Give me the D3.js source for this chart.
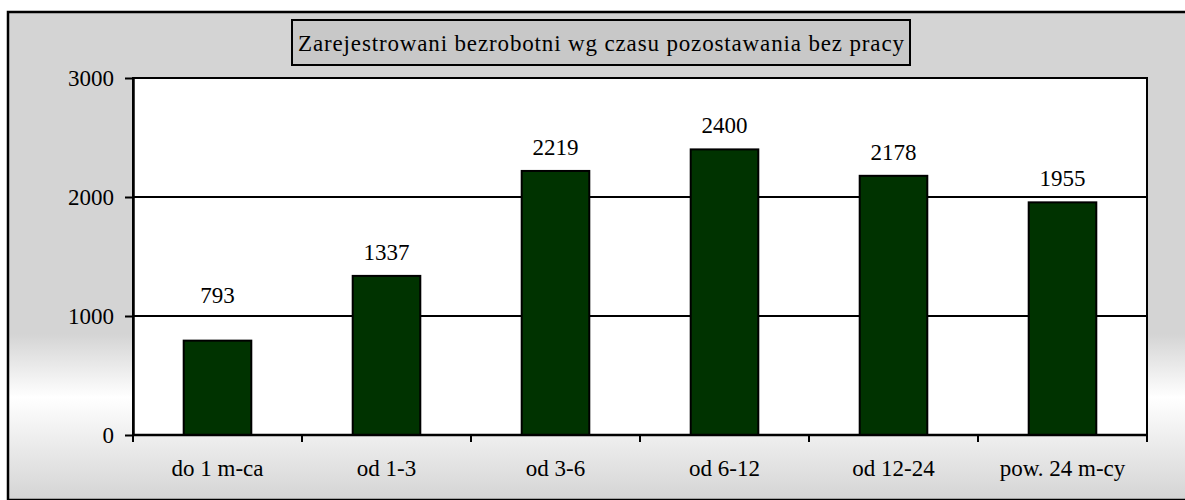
<!DOCTYPE html>
<html>
<head>
<meta charset="utf-8">
<script src="https://cdn.jsdelivr.net/npm/d3@7"></script>
<style>
  html, body { margin: 0; padding: 0; background: #fff; }
</style>
</head>
<body>
<svg id="chart" width="1185" height="500"></svg>
<script>
// chart data
var categories = ["do 1 m-ca", "od 1-3", "od 3-6", "od 6-12", "od 12-24", "pow. 24 m-cy"];
var values = [793, 1337, 2219, 2400, 2178, 1955];
var yTicks = [0, 1000, 2000, 3000];
var title = "Zarejestrowani bezrobotni wg czasu pozostawania bez pracy";

var svg = d3.select('#chart'),
    margin = { left: 133, right: 1147, top: 78, bottom: 435 };

var defs = svg.append('defs');
var grad = defs.append('linearGradient')
    .attr('id', 'bg')
    .attr('x1', 0).attr('y1', 0).attr('x2', 0).attr('y2', 1);
grad.append('stop').attr('offset', 0).attr('stop-color', '#d4d4d4');
grad.append('stop').attr('offset', 0.66).attr('stop-color', '#d4d4d4');
grad.append('stop').attr('offset', 0.79).attr('stop-color', '#ffffff');
grad.append('stop').attr('offset', 1).attr('stop-color', '#d4d4d4');

// outer frame
svg.append('rect')
    .attr('x', 8).attr('y', 12)
    .attr('width', 1200).attr('height', 488)
    .attr('fill', 'url(#bg)')
    .attr('stroke', '#000')
    .attr('stroke-width', 2.5);

function label(parent, x, y, str, anchor) {
  return parent.append('text')
      .attr('x', x).attr('y', y)
      .attr('dy', '0.35em')
      .attr('text-anchor', anchor || 'middle')
      .attr('fill', '#000')
      .attr('font-family', 'Liberation Serif')
      .attr('font-size', 23)
      .text(str);
}

// title box
svg.append('rect')
    .attr('x', 292).attr('y', 20)
    .attr('width', 618).attr('height', 45)
    .attr('fill', '#c8c8c8')
    .attr('stroke', '#000')
    .attr('stroke-width', 2);
label(svg, 601, 43, title)
    .attr('textLength', 606)
    .attr('lengthAdjust', 'spacing');

var x = d3.scaleBand()
    .domain(categories)
    .range([margin.left, margin.right])
    .paddingInner(0.6)
    .paddingOuter(0.3);

var xBand = d3.scaleBand()
    .domain(categories)
    .range([margin.left, margin.right]);

var y = d3.scaleLinear()
    .domain([0, 3000])
    .range([margin.bottom, margin.top]);

// plot area
svg.append('rect')
    .attr('x', margin.left).attr('y', margin.top)
    .attr('width', margin.right - margin.left)
    .attr('height', margin.bottom - margin.top)
    .attr('fill', '#fff')
    .attr('stroke', '#000')
    .attr('stroke-width', 2);

// gridlines
svg.append('g')
  .selectAll('line')
  .data(yTicks.filter(function(d) { return d > 0 && d < 3000; }))
  .join('line')
    .attr('x1', margin.left).attr('x2', margin.right)
    .attr('y1', function(d) { return y(d); })
    .attr('y2', function(d) { return y(d); })
    .attr('stroke', '#000')
    .attr('stroke-width', 2);

// bars
svg.append('g')
  .selectAll('rect')
  .data(values)
  .join('rect')
    .attr('x', function(d, i) { return x(categories[i]); })
    .attr('y', function(d) { return y(d); })
    .attr('width', x.bandwidth())
    .attr('height', function(d) { return y(0) - y(d); })
    .attr('fill', '#003300')
    .attr('stroke', '#000')
    .attr('stroke-width', 2);

// value labels
values.forEach(function(d, i) {
  var ly = Math.min(y(d) - 24, y(1000) - 21);
  label(svg, x(categories[i]) + x.bandwidth() / 2, ly, d);
});

// y axis
var yAxis = svg.append('g')
    .attr('transform', 'translate(' + margin.left + ',0)')
    .call(d3.axisLeft(y).tickValues(yTicks).tickSize(8).tickSizeOuter(0).tickFormat(d3.format('d')));
yAxis.select('.domain').attr('stroke', '#000').attr('stroke-width', 2.5);
yAxis.selectAll('.tick line').attr('stroke', '#000').attr('stroke-width', 2);
yAxis.selectAll('.tick text')
    .attr('x', -19)
    .attr('fill', '#000')
    .attr('font-family', 'Liberation Serif')
    .attr('font-size', 23);

// x axis: ticks at category boundaries
var bounds = categories.map(function(c) { return xBand(c); }).concat([margin.right]);
svg.append('line')
    .attr('x1', margin.left).attr('x2', margin.right)
    .attr('y1', y(0)).attr('y2', y(0))
    .attr('stroke', '#000').attr('stroke-width', 2.5);
svg.append('g')
  .selectAll('line')
  .data(bounds)
  .join('line')
    .attr('x1', function(d) { return d; }).attr('x2', function(d) { return d; })
    .attr('y1', y(0)).attr('y2', y(0) + 7)
    .attr('stroke', '#000').attr('stroke-width', 2);

categories.forEach(function(c) {
  label(svg, xBand(c) + xBand.bandwidth() / 2, 468, c);
});
</script>
</body>
</html>
